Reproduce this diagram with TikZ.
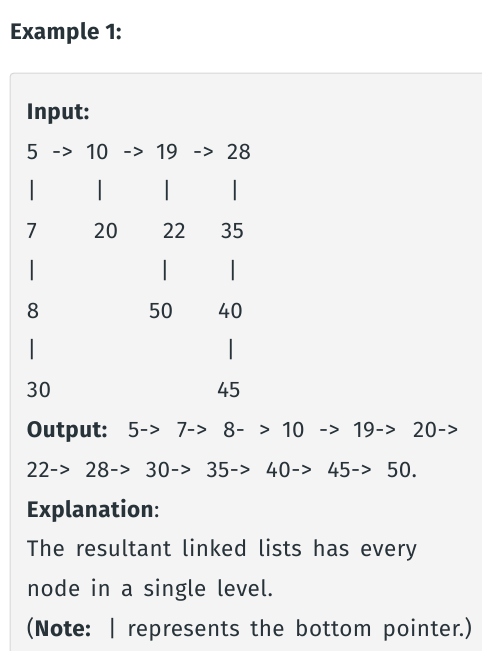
\documentclass[tikz,border=0pt]{standalone}
\usepackage{fontspec}
\setmainfont{Fira Sans}[LetterSpace=2]
\definecolor{fg}{HTML}{273239}
\definecolor{boxbg}{HTML}{F4F4F4}
\definecolor{boxline}{HTML}{D6D6D6}
\newcommand{\txtsize}{\fontsize{22.5}{27}\selectfont}
\tikzset{
 txt/.style={anchor=base west, inner sep=0pt, outer sep=0pt, text=fg, font=\txtsize},
 barsym/.style={txt, anchor=base},
 boldtxt/.style={txt, font=\txtsize\bfseries},
}
\begin{document}
\begin{tikzpicture}[x=1pt,y=-1pt]
\useasboundingbox (0,0) rectangle (482,651);
\clip (0,0) rectangle (482,651);
\fill[boxbg, rounded corners=4pt] (10,73) rectangle (520,700);
\draw[boxline, line width=1pt, rounded corners=4pt] (10,700) -- (10,73) -- (520,73);
% heading
\node[boldtxt] (ex) at (10,39) {Example 1:};
\node[boldtxt] (inp) at (27,119) {Input:};
% row 1
\node[txt] (n5) at (27,159) {5};
\node[txt] (r1) at (52,159) {->};
\node[txt] (n10) at (86,159) {10};
\node[txt] (r2) at (123,159) {->};
\node[txt] (n19) at (156,159) {19};
\node[txt] (r3) at (193,159) {->};
\node[txt] (n28) at (227,159) {28};
% bars
\node[barsym] (b11) at (32,198.6) {|};
\node[barsym] (b12) at (100,198.6) {|};
\node[barsym] (b13) at (167,198.6) {|};
\node[barsym] (b14) at (235,198.6) {|};
% row 3
\node[txt] (n7) at (27,238.4) {7};
\node[txt] (n20) at (94,238.4) {20};
\node[txt] (n22) at (163,238.4) {22};
\node[txt] (n35) at (221,238.4) {35};
\node[barsym] (b21) at (32,278.2) {|};
\node[barsym] (b22) at (165,278.2) {|};
\node[barsym] (b23) at (233,278.2) {|};
% row 5
\node[txt] (n8) at (27,318) {8};
\node[txt] (n50) at (149,318) {50};
\node[txt] (n40) at (218,318) {40};
\node[barsym] (b31) at (32,357.8) {|};
\node[barsym] (b32) at (231,357.8) {|};
% row 7
\node[txt] (n30) at (27,397.6) {30};
\node[txt] (n45) at (217,397.6) {45};
% output
\node[boldtxt] (out) at (27,437.4) {Output:};
\node[txt] (o1) at (128,437.4) {5->};
\node[txt] (o2) at (177,437.4) {7->};
\node[txt] (o3) at (223,437.4) {8-};
\node[txt] (o4) at (259,437.4) {>};
\node[txt] (o5) at (282,437.4) {10};
\node[txt] (o6) at (319,437.4) {->};
\node[txt] (o7) at (353,437.4) {19->};
\node[txt] (o8) at (413,437.4) {20->};
\node[txt] (out2) at (27,477.2) {\makebox[390pt][s]{22-> 28-> 30-> 35-> 40-> 45-> 50.}};
\node[txt] (expl) at (27,517) {\textbf{Explanation}:};
\node[txt] (e1) at (27,556.8) {\makebox[390pt][s]{The resultant linked lists has every}};
\node[txt] (e2) at (27,596.6) {\makebox[246pt][s]{node in a single level.}};
\node[txt] (e3) at (27,636.4) {\makebox[445pt][s]{(\textbf{Note:} | represents the bottom pointer.)}};
\end{tikzpicture}
\end{document}
